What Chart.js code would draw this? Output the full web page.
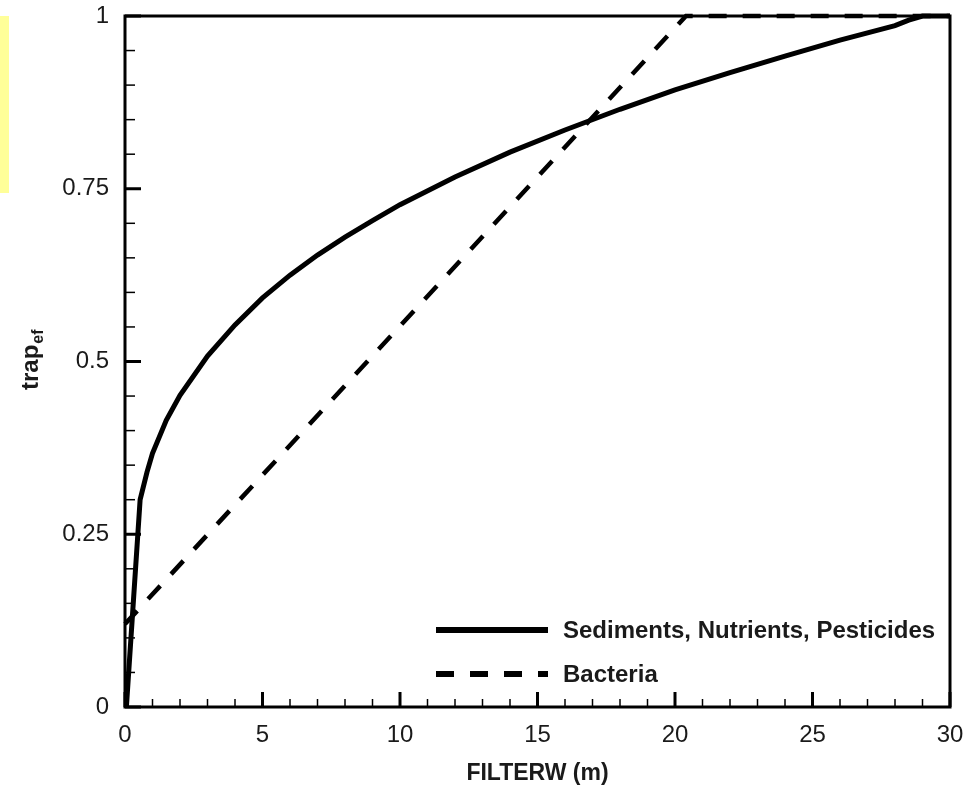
<!DOCTYPE html>
<html>
<head>
<meta charset="utf-8">
<script src="https://cdn.jsdelivr.net/npm/chart.js@4/dist/chart.umd.min.js"></script>
<style>
  html, body { margin: 0; padding: 0; background: #fff; }
  #wrap { position: relative; width: 966px; height: 787px; }
  .note { position: absolute; left: 0; top: 16px; width: 9px; height: 177px; background: #ffff99; }
</style>
</head>
<body>
<div id="wrap">
  <canvas id="chart" width="966" height="787"></canvas>
  <div class="note"></div>
</div>
<script>
// values
const sedWidth = [0.05, 0.55, 0.8, 1, 1.5, 2, 3, 4, 5, 6, 7, 8, 9, 10, 12, 14, 16, 18, 20, 22, 24, 26, 28, 28.5, 29, 30];
const sedTrap  = [0, 0.30, 0.34, 0.367, 0.415, 0.451, 0.508, 0.553, 0.592, 0.625, 0.654, 0.68, 0.704, 0.727, 0.767, 0.803, 0.835, 0.865, 0.893, 0.918, 0.942, 0.965, 0.986, 0.994, 1, 1];
const bactWidth = [0, 20.4, 30];
const bactTrap  = [0.12, 1, 1];
const seriesNames = ['Sediments, Nutrients, Pesticides', 'Bacteria'];
const xRange = [0, 30], xStep = 5;
const yRange = [0, 1], yStep = 0.25;

const TXT = '#1a1a1a';
const FONT = 'Liberation Sans, Arial, Helvetica, sans-serif';

const pts = (xs, ys) => xs.map((x, i) => ({x: x, y: ys[i]}));

// frame + inward ticks (major and minor)
const framePlugin = {
  id: 'frame',
  beforeDatasetsDraw(chart) {
    const {ctx, chartArea: a, scales: {x, y}} = chart;
    ctx.save();
    ctx.strokeStyle = '#000';
    for (let i = 0; i <= 30; i++) {
      const px = x.getPixelForValue(i);
      const major = i % 5 === 0;
      ctx.lineWidth = major ? 3 : 1.5;
      ctx.beginPath();
      ctx.moveTo(px, a.bottom);
      ctx.lineTo(px, a.bottom - (major ? 15 : 8));
      ctx.stroke();
    }
    for (let i = 0; i <= 20; i++) {
      const py = y.getPixelForValue(i * 0.05);
      const major = i % 5 === 0;
      ctx.lineWidth = major ? 3 : 1.5;
      ctx.beginPath();
      ctx.moveTo(a.left, py);
      ctx.lineTo(a.left + (major ? 16 : 10), py);
      ctx.stroke();
    }
    ctx.lineWidth = 3;
    ctx.strokeRect(a.left, a.top, a.right - a.left, a.bottom - a.top);
    ctx.restore();
  }
};

// legend in the lower right + y title with subscript
const extrasPlugin = {
  id: 'extras',
  afterDraw(chart) {
    const ctx = chart.ctx;
    const rows = [630, 674];
    ctx.save();
    chart.data.datasets.forEach((ds, i) => {
      ctx.strokeStyle = '#000';
      ctx.lineWidth = 6;
      ctx.setLineDash(ds.borderDash || []);
      ctx.beginPath();
      ctx.moveTo(436, rows[i]);
      ctx.lineTo(548, rows[i]);
      ctx.stroke();
      ctx.setLineDash([]);
      ctx.fillStyle = TXT;
      ctx.font = 'bold 24px ' + FONT;
      ctx.textBaseline = 'middle';
      ctx.fillText(ds.label, 563, rows[i] + 1);
    });

    ctx.translate(38, 390);
    ctx.rotate(-Math.PI / 2);
    ctx.textBaseline = 'alphabetic';
    ctx.font = 'bold 24px ' + FONT;
    ctx.fillText('trap', 0, 0);
    const w = ctx.measureText('trap').width;
    ctx.font = 'bold 16px ' + FONT;
    ctx.fillText('ef', w + 1, 5);
    ctx.restore();
  }
};

new Chart(document.getElementById('chart'), {
  type: 'line',
  data: {
    datasets: [
      { label: seriesNames[0], data: pts(sedWidth, sedTrap), borderColor: '#000', borderWidth: 5,
        pointRadius: 0, tension: 0, clip: false },
      { label: seriesNames[1], data: pts(bactWidth, bactTrap), borderColor: '#000', borderWidth: 4.5,
        borderDash: [18, 16], pointRadius: 0, tension: 0, clip: false }
    ]
  },
  options: {
    responsive: false,
    animation: false,
    layout: { padding: { top: 16, right: 16, left: 0, bottom: 0 } },
    plugins: { legend: { display: false }, tooltip: { enabled: false } },
    scales: {
      x: {
        type: 'linear', min: xRange[0], max: xRange[1],
        grid: { display: false }, border: { display: false },
        ticks: { stepSize: xStep, padding: 6, color: TXT, font: { family: FONT, size: 24 } },
        title: { display: true, text: 'FILTERW (m)', color: TXT, padding: { top: 0, bottom: 0 },
                 font: { family: FONT, size: 23, weight: 'bold' } },
        afterFit: (s) => { s.height = 80; s.paddingLeft = 0; s.paddingRight = 0; }
      },
      y: {
        min: yRange[0], max: yRange[1],
        grid: { display: false }, border: { display: false },
        ticks: { stepSize: yStep, padding: 8, color: TXT, font: { family: FONT, size: 24 },
                 callback: (v) => `${v}` },
        afterFit: (s) => { s.width = 125; s.paddingTop = 0; s.paddingBottom = 0; }
      }
    }
  },
  plugins: [framePlugin, extrasPlugin]
});
</script>
</body>
</html>
